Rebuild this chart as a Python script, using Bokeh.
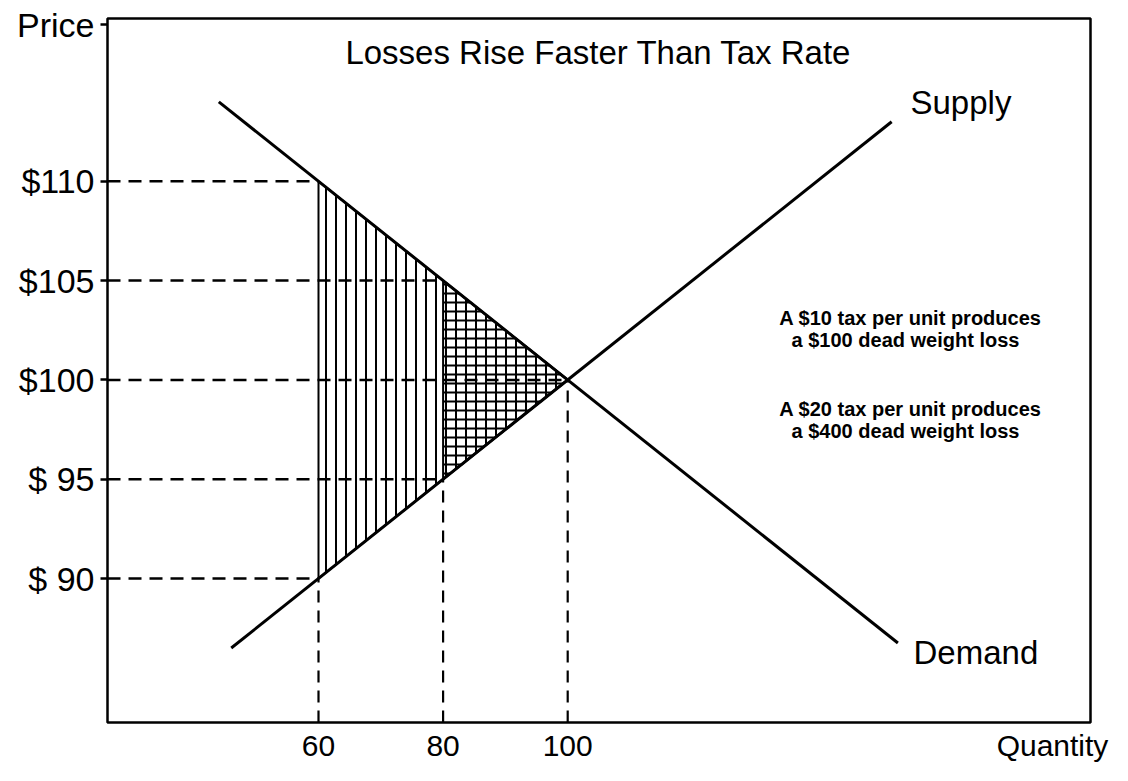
from bokeh.plotting import figure
from bokeh.models import Label, FixedTicker, Range1d
from bokeh.embed import file_html
from bokeh.resources import INLINE

# ---- data ----
price_ticks = [90, 95, 100, 105, 110]
price_tick_labels = ["$ 90", "$ 95", "$100", "$105", "$110"]
qty_ticks = [60, 80, 100]
qty_tick_labels = ["60", "80", "100"]

supply_q = [46, 152]
supply_p = [86.5, 113.0]
demand_q = [44, 153]
demand_p = [114.0, 86.75]

# $20 tax wedge (big triangle) and $10 tax wedge (small triangle)
wedge20_q = [60, 60, 100]
wedge20_p = [90, 110, 100]
wedge10_q = [80, 80, 100]
wedge10_p = [95, 105, 100]

# dashed guides: price level -> quantity where the guide ends
guide_prices = [110, 105, 100, 95, 90]
guide_ends = [60, 80, 100, 80, 60]
# vertical guides: quantity -> price where the guide starts
vguide_q = [60, 80, 100]
vguide_p = [90, 95, 100]

# ---- layout (pixels) ----
W, H = 1112, 765
FL, FR, FT, FB = 107, 1090, 18, 722      # frame edges
XPX60, XPU = 318, 6.23                  # x pixel of q=60, pixels per unit
YPX90, YPU = 578, 19.86                 # y pixel of p=90, pixels per unit


def qx(px):
    return 60 + (px - XPX60) / XPU


def py(ypx):
    return 90 - (ypx - YPX90) / YPU


X0, X1 = qx(FL), qx(FR)
Y0, Y1 = py(FB), py(FT)

FONT = "Liberation Sans"

p = figure(width=W, height=H, output_backend="svg", toolbar_location=None,
           x_range=Range1d(X0, X1), y_range=Range1d(Y0, Y1),
           min_border_left=FL, min_border_right=W - FR, min_border_top=FT,
           min_border_bottom=H - FB)
p.grid.visible = False
p.background_fill_color = "white"
p.border_fill_color = "white"
p.outline_line_color = "black"
p.outline_line_width = 2.5
p.outline_line_alpha = 1.0

# axis titles sit in the tick-label rows ("Price" top-left, "Quantity" bottom-right)
price_title_pos = py(24)
qty_title_pos = qx(1052)

# axes
p.yaxis.ticker = FixedTicker(ticks=price_ticks + [price_title_pos])
overrides_y = {v: s for v, s in zip(price_ticks, price_tick_labels)}
overrides_y[price_title_pos] = "Price"
p.yaxis.major_label_overrides = overrides_y
p.yaxis.axis_line_color = None
p.yaxis.major_tick_in = 0
p.yaxis.major_tick_out = 7
p.yaxis.major_tick_line_width = 2.5
p.yaxis.minor_tick_line_color = None
p.yaxis.major_label_standoff = 6
p.yaxis.major_label_text_font = FONT
p.yaxis.major_label_text_font_size = "34px"
p.yaxis.major_label_text_color = "black"

p.xaxis.ticker = FixedTicker(ticks=qty_ticks + [qty_title_pos])
overrides_x = {v: s for v, s in zip(qty_ticks, qty_tick_labels)}
overrides_x[qty_title_pos] = "Quantity"
p.xaxis.major_label_overrides = overrides_x
p.xaxis.axis_line_color = None
p.xaxis.major_tick_line_color = None
p.xaxis.minor_tick_line_color = None
p.xaxis.major_label_standoff = 0
p.xaxis.major_label_text_font = FONT
p.xaxis.major_label_text_font_size = "30px"
p.xaxis.major_label_text_color = "black"

# hatched wedges
p.patch(wedge20_q, wedge20_p, fill_color="white", fill_alpha=0.0,
        hatch_pattern="vertical_line", hatch_color="black", hatch_weight=2, hatch_scale=10,
        line_color="black", line_width=2)
p.patch(wedge10_q, wedge10_p, fill_color="white", fill_alpha=0.0,
        hatch_pattern="horizontal_line", hatch_color="black", hatch_weight=2, hatch_scale=9,
        line_color="black", line_width=2)

# dashed guides
for pr, qe in zip(guide_prices, guide_ends):
    p.line([X0, qe], [pr, pr], line_color="black", line_width=2.5, line_dash="13 8")
for qv, pv in zip(vguide_q, vguide_p):
    p.line([qv, qv], [Y0, pv], line_color="black", line_width=2.2, line_dash="12 8")

# curves
p.line(supply_q, supply_p, line_color="black", line_width=3)
p.line(demand_q, demand_p, line_color="black", line_width=3)


def add_text(txt, xpx, ypx, size, align="left", bold=False):
    p.add_layout(Label(x=qx(xpx), y=py(ypx), text=txt, text_align=align,
                       text_baseline="alphabetic", text_font=FONT,
                       text_font_size=size, text_color="black",
                       text_font_style="bold" if bold else "normal"))


add_text("Losses Rise Faster Than Tax Rate", 598, 52, "33px", align="center")
add_text("Supply", 910, 102, "33px")
add_text("Demand", 913, 652, "33px")

add_text("A $10 tax per unit produces", 910, 317, "20px", align="center", bold=True)
add_text("a $100 dead weight loss", 905, 339, "20px", align="center", bold=True)
add_text("A $20 tax per unit produces", 910, 408, "20px", align="center", bold=True)
add_text("a $400 dead weight loss", 905, 430, "20px", align="center", bold=True)

open("out.html", "w").write(file_html(p, INLINE))
